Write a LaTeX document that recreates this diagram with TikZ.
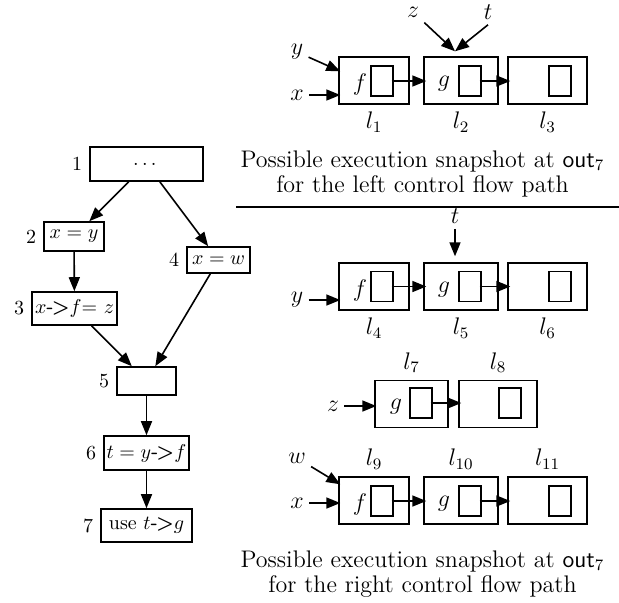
\documentclass[tikz,border=0pt]{standalone}
\usepackage{amsmath}
\usepackage{tikz}
\usetikzlibrary{arrows.meta,calc,positioning}
\tikzset{
  stmt/.style={draw,line width=0.8pt,inner sep=0pt,label distance=2pt},
  cell/.style={draw,line width=0.7pt,minimum height=23.5pt,inner sep=0pt},
  slot/.style={draw,line width=0.7pt,minimum width=11pt,minimum height=15pt,inner sep=0pt},
  ptr/.style={-{Triangle[length=7pt,width=5.5pt]},line width=0.8pt},
  loc/.style={font=\large,label distance=0pt},
  var/.style={font=\large,inner sep=2.5pt},
  caption/.style={align=center,font=\large},
}
\newcommand{\arw}{{\sffamily\bfseries -\kern-1pt>}}

\begin{document}
\begin{tikzpicture}[x=0.5pt,y=-0.5pt]
  \useasboundingbox (0,0) rectangle (619,602);
  % control flow graph
  \node[stmt,minimum width=56.5pt,minimum height=17pt,label=left:1] (n1) at (146.5,164) {$\dots$};
  \node[stmt,minimum width=30pt,minimum height=14.5pt,label=left:2] (n2) at (74,236.5) {$x = y$};
  \node[stmt,minimum width=42.5pt,minimum height=16.5pt,label=left:3] (n3) at (74.5,308.5) {$x$\arw$f$= $z$};
  \node[stmt,minimum width=31.5pt,minimum height=13pt,label=left:4] (n4) at (218.5,260) {$x = w$};
  \node[stmt,minimum width=29.5pt,minimum height=14pt,label=left:5] (n5) at (146.5,381) {};
  \node[stmt,minimum width=42.5pt,minimum height=17pt,label=left:6] (n6) at (146.5,453) {$t = y$\arw$f$};
  \node[stmt,minimum width=45.5pt,minimum height=16.5pt,label=left:7] (n7) at (146.5,525.5) {use $t$\arw$g$};
  \path[ptr] (n1) edge (n2) edge (n4) (n2) edge (n3) (n3) edge (n5)
    (n4) edge (n5) (n5) edge (n6) (n6) edge (n7);

  % left path snapshot
  \node[cell,minimum width=35pt,label={[loc]below:$l_1$}] (l1) at (374,80.5) {};
  \node[cell,minimum width=37pt,label={[loc]below:$l_2$}] (l2) at (461,80.5) {};
  \node[cell,minimum width=39.5pt,label={[loc]below:$l_3$}] (l3) at (547.5,80.5) {};
  \node[slot] (s1) at (382,81) {}; \node[slot] (s2) at (470,81) {}; \node[slot] (s3) at (560,81) {};
  \node[var] (f1) at (360,84) {$f$}; \node[var] (g2) at (444,84) {$g$};
  \node[var] (y1) at (297,52) {$y$}; \node[var] (x1) at (297,95) {$x$};
  \node[var] (z1) at (413,12) {$z$}; \node[var] (t1) at (488,12) {$t$};
  \draw[ptr] (y1) -- ($(l1.north west)+(1pt,-7.5pt)$);
  \draw[ptr] (x1) -- ($(x1 -| l1.west)+(1pt,0)$);
  \draw[ptr] (z1) -- ($(l2.north)+(-3pt,2.5pt)$);
  \draw[ptr] (t1.south) -- ($(l2.north)+(-3pt,2.5pt)$);
  \draw[ptr] ([xshift=-1pt]s1.east) -- ($(s1.east -| l2.west)+(1.5pt,0)$);
  \draw[ptr] ([xshift=-1pt]s2.east) -- ($(s2.east -| l3.west)+(1.5pt,0)$);
  \node[caption] (cap1) at (422.5,174) {Possible execution snapshot at \textsf{out}$_7$\\[-1.2pt]for the left control flow path};
  \draw[line width=0.8pt] (236,207) -- (619,207);

  % right path snapshot
  \node[cell,minimum width=35pt,label={[loc]below:$l_4$}] (l4) at (374,286.5) {};
  \node[cell,minimum width=37pt,label={[loc]below:$l_5$}] (l5) at (461,286.5) {};
  \node[cell,minimum width=39.5pt,label={[loc]below:$l_6$}] (l6) at (547.5,286.5) {};
  \node[slot] (s4) at (382,286.5) {}; \node[slot] (s5) at (470,286.5) {}; \node[slot] (s6) at (560,286.5) {};
  \node[var] (f4) at (360,290) {$f$}; \node[var] (g5) at (444,290) {$g$};
  \node[var] (t2) at (455,216) {$t$}; \node[var] (y2) at (297,300) {$y$};
  \draw[ptr] (t2) -- ($(l5.north)+(-3pt,3pt)$);
  \draw[ptr] (y2) -- ($(y2 -| l4.west)+(1pt,0)$);
  \draw[ptr] ([xshift=-1pt]s4.east) -- ($(s4.east -| l5.west)+(1.5pt,0)$);
  \draw[ptr] ([xshift=-1pt]s5.east) -- ($(s5.east -| l6.west)+(1.5pt,0)$);

  \node[cell,minimum width=36.5pt,label={[loc]above:$l_7$}] (l7) at (411.5,404) {};
  \node[cell,minimum width=39pt,label={[loc]above:$l_8$}] (l8) at (498,404) {};
  \node[slot] (s7) at (421,403) {}; \node[slot] (s8) at (510,403) {};
  \node[var] (g7) at (396,407) {$g$}; \node[var] (z3) at (333,406) {$z$};
  \draw[ptr] (z3) -- ($(z3 -| l7.west)+(1pt,0)$);
  \draw[ptr] ([xshift=-1pt]s7.east) -- ($(s7.east -| l8.west)+(1.5pt,0)$);

  \node[cell,minimum width=35pt,label={[loc]above:$l_9$}] (l9) at (374,500.5) {};
  \node[cell,minimum width=37pt,label={[loc]above:$l_{10}$}] (l10) at (461,500.5) {};
  \node[cell,minimum width=39.5pt,label={[loc]above:$l_{11}$}] (l11) at (547.5,500.5) {};
  \node[slot] (s9) at (382,501) {}; \node[slot] (s10) at (470,501) {}; \node[slot] (s11) at (560,501) {};
  \node[var] (f9) at (360,504) {$f$}; \node[var] (g10) at (444,504) {$g$};
  \node[var] (w4) at (297,458) {$w$}; \node[var] (x4) at (297,503) {$x$};
  \draw[ptr] (w4) -- ($(l9.north west)+(1pt,-4pt)$);
  \draw[ptr] (x4) -- ($(x4 -| l9.west)+(1pt,0)$);
  \draw[ptr] ([xshift=-1pt]s9.east) -- ($(s9.east -| l10.west)+(1.5pt,0)$);
  \draw[ptr] ([xshift=-1pt]s10.east) -- ($(s10.east -| l11.west)+(1.5pt,0)$);
  \node[caption] (cap2) at (422.5,574) {Possible execution snapshot at \textsf{out}$_7$\\[-1.2pt]for the right control flow path};
\end{tikzpicture}
\end{document}
